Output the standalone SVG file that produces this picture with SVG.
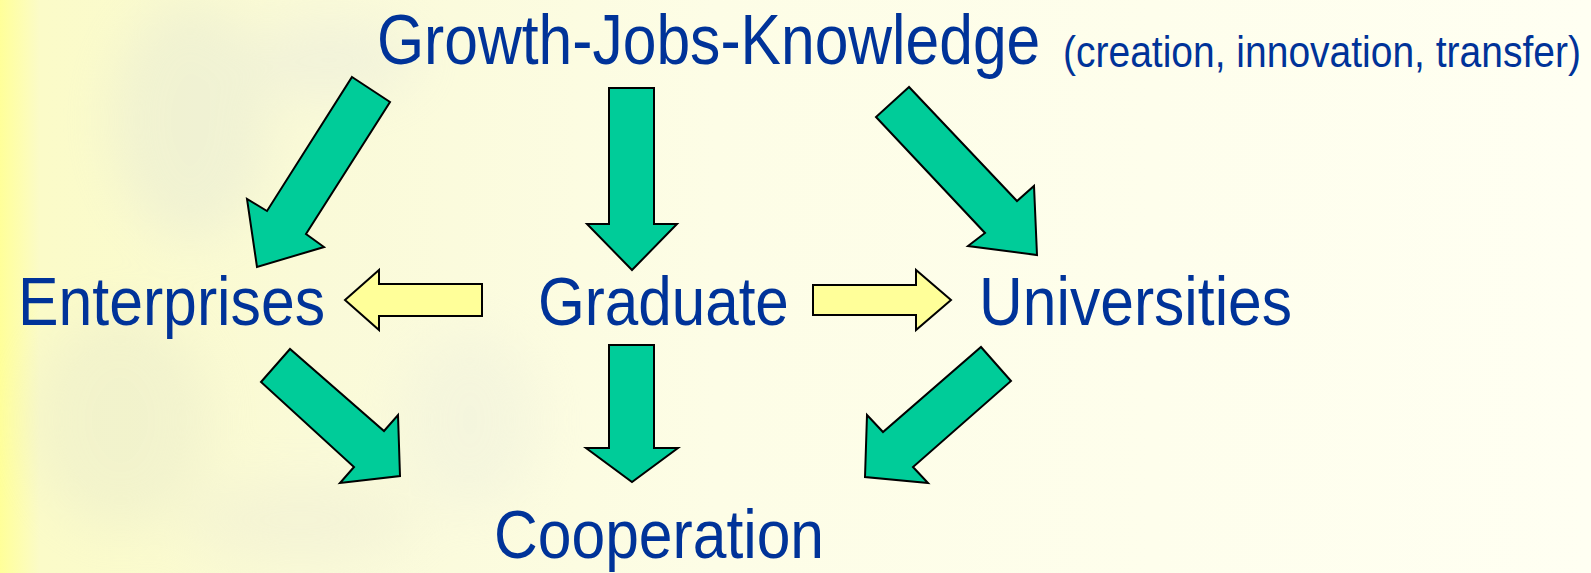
<svg xmlns="http://www.w3.org/2000/svg" width="1591" height="573" viewBox="0 0 1591 573">
<defs>
<linearGradient id="bg" x1="0" y1="0" x2="1" y2="0">
<stop offset="0" stop-color="#ffff99"/>
<stop offset="0.025" stop-color="#fbfbc8"/>
<stop offset="0.2" stop-color="#fafad8"/>
<stop offset="0.45" stop-color="#fdfde6"/>
<stop offset="1" stop-color="#fffff2"/>
</linearGradient>
<filter id="blur" x="-50%" y="-50%" width="200%" height="200%"><feGaussianBlur stdDeviation="25"/></filter>
<style>
.lbl{font-family:"Liberation Sans",Arial,sans-serif;fill:#003399}
.g{fill:#00cc99;stroke:#000;stroke-width:2;stroke-linejoin:miter}
.y{fill:#ffff99;stroke:#000;stroke-width:2;stroke-linejoin:miter}
</style>
</defs>
<rect x="0" y="0" width="1591" height="573" fill="url(#bg)"/>
<g filter="url(#blur)" opacity="0.4">
<ellipse cx="190" cy="120" rx="80" ry="120" fill="#e2e6d6"/>
<ellipse cx="330" cy="60" rx="90" ry="40" fill="#e6e8dc"/>
<ellipse cx="120" cy="420" rx="90" ry="110" fill="#e6e8cc"/>
<ellipse cx="470" cy="420" rx="70" ry="90" fill="#eceedd"/>
<ellipse cx="300" cy="520" rx="120" ry="40" fill="#ecebd4"/>
</g>
<g id="connectors">
<polygon class="g" points="352,77 390,102 306,234 324,247 257,267 247,199 267,211"/>
<polygon class="g" points="609,88 654,88 654,224 677,224 632,270 587,224 609,224"/>
<polygon class="g" points="909,87 876,117 985,233 968,246 1037,255 1034,186 1017,201"/>
<polygon class="y" points="482,284 379,284 379,270 345,300 379,330 379,316 482,316"/>
<polygon class="y" points="813,285 916,285 916,270 951,300 916,330 916,315 813,315"/>
<polygon class="g" points="290,349 261,382 354,467 340,483 400,476 398,415 384,431"/>
<polygon class="g" points="609,345 654,345 654,448 678,448 632,482 586,448 609,448"/>
<polygon class="g" points="981,347 1011,381 913,467 928,483 865,477 867,415 883,432"/>
</g>
<g id="node-growth">
<text class="lbl" transform="translate(377,64) scale(0.8655,1)" font-size="70">Growth-Jobs-Knowledge</text>
<text class="lbl" transform="translate(1063,67) scale(0.8667,1)" font-size="45">(creation, innovation, transfer)</text>
</g>
<g id="node-enterprises">
<text class="lbl" transform="translate(18,325) scale(0.893,1)" font-size="68">Enterprises</text>
</g>
<g id="node-graduate">
<text class="lbl" transform="translate(538,325) scale(0.885,1)" font-size="68">Graduate</text>
</g>
<g id="node-universities">
<text class="lbl" transform="translate(979,325) scale(0.891,1)" font-size="68">Universities</text>
</g>
<g id="node-cooperation">
<text class="lbl" transform="translate(494,558) scale(0.891,1)" font-size="68">Cooperation</text>
</g>
</svg>
